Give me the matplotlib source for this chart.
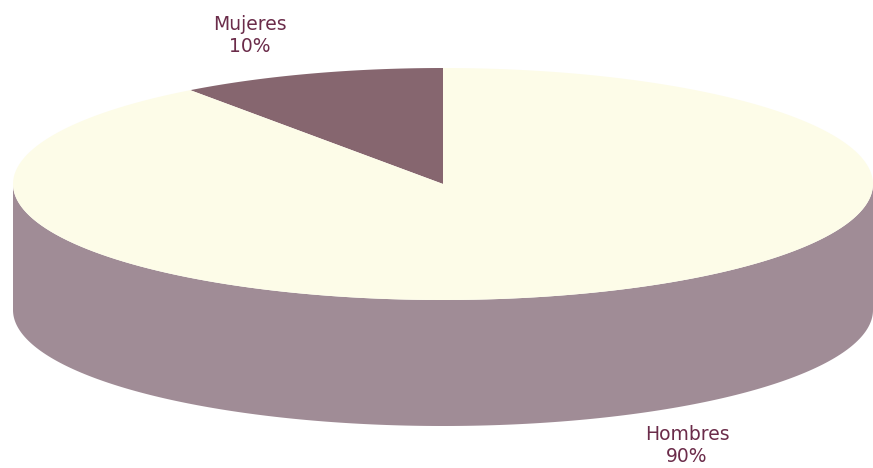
import numpy as np
import matplotlib.pyplot as plt
from matplotlib.patches import Polygon

labels = ["Mujeres", "Hombres"]
values = [10, 90]

top_colors = ["#86666F", "#FDFCE8"]
side_colors = ["#6F525B", "#A08C96"]
text_color = "#6B2C4A"

# geometria del pastel 3D (en pixeles)
cx, cy = 443, 184
a, b = 430, 116
depth = 126

label_pos = [(250, 35), (687, 446)]

fig = plt.figure(figsize=(8.73, 4.68), dpi=100)
ax = fig.add_axes([0, 0, 1, 1])
ax.set_xlim(0, 873)
ax.set_ylim(468, 0)
ax.axis("off")


def ellipse_pts(phi1, phi2, dy=0, n=200):
    phi = np.radians(np.linspace(phi1, phi2, n))
    return np.column_stack([cx + a * np.cos(phi), cy - b * np.sin(phi) + dy])


# angulos: empieza arriba (90 grados) y gira en sentido antihorario
fracs = np.array(values) / sum(values)
starts = 90 + 360 * np.concatenate([[0], np.cumsum(fracs)[:-1]])
ends = starts + 360 * fracs

# lados visibles (mitad inferior, 180..360 grados)
for s, e, col in zip(starts, ends, side_colors):
    for off in (0, 360, -360):
        lo = max(s + off, 180)
        hi = min(e + off, 360)
        if hi > lo:
            top = ellipse_pts(lo, hi)
            bot = ellipse_pts(hi, lo, dy=depth)
            ax.add_patch(Polygon(np.vstack([top, bot]), closed=True,
                                 facecolor=col, edgecolor="none"))

# caras superiores
for s, e, col in zip(starts, ends, top_colors):
    pts = np.vstack([[cx, cy], ellipse_pts(s, e)])
    ax.add_patch(Polygon(pts, closed=True, facecolor=col, edgecolor="none"))

for lab, val, (x, y) in zip(labels, values, label_pos):
    ax.text(x, y, f"{lab}\n{val}%", ha="center", va="center",
            fontsize=13.5, color=text_color, linespacing=1.2,
            family="DejaVu Sans")

plt.savefig("out.png", dpi=100)
